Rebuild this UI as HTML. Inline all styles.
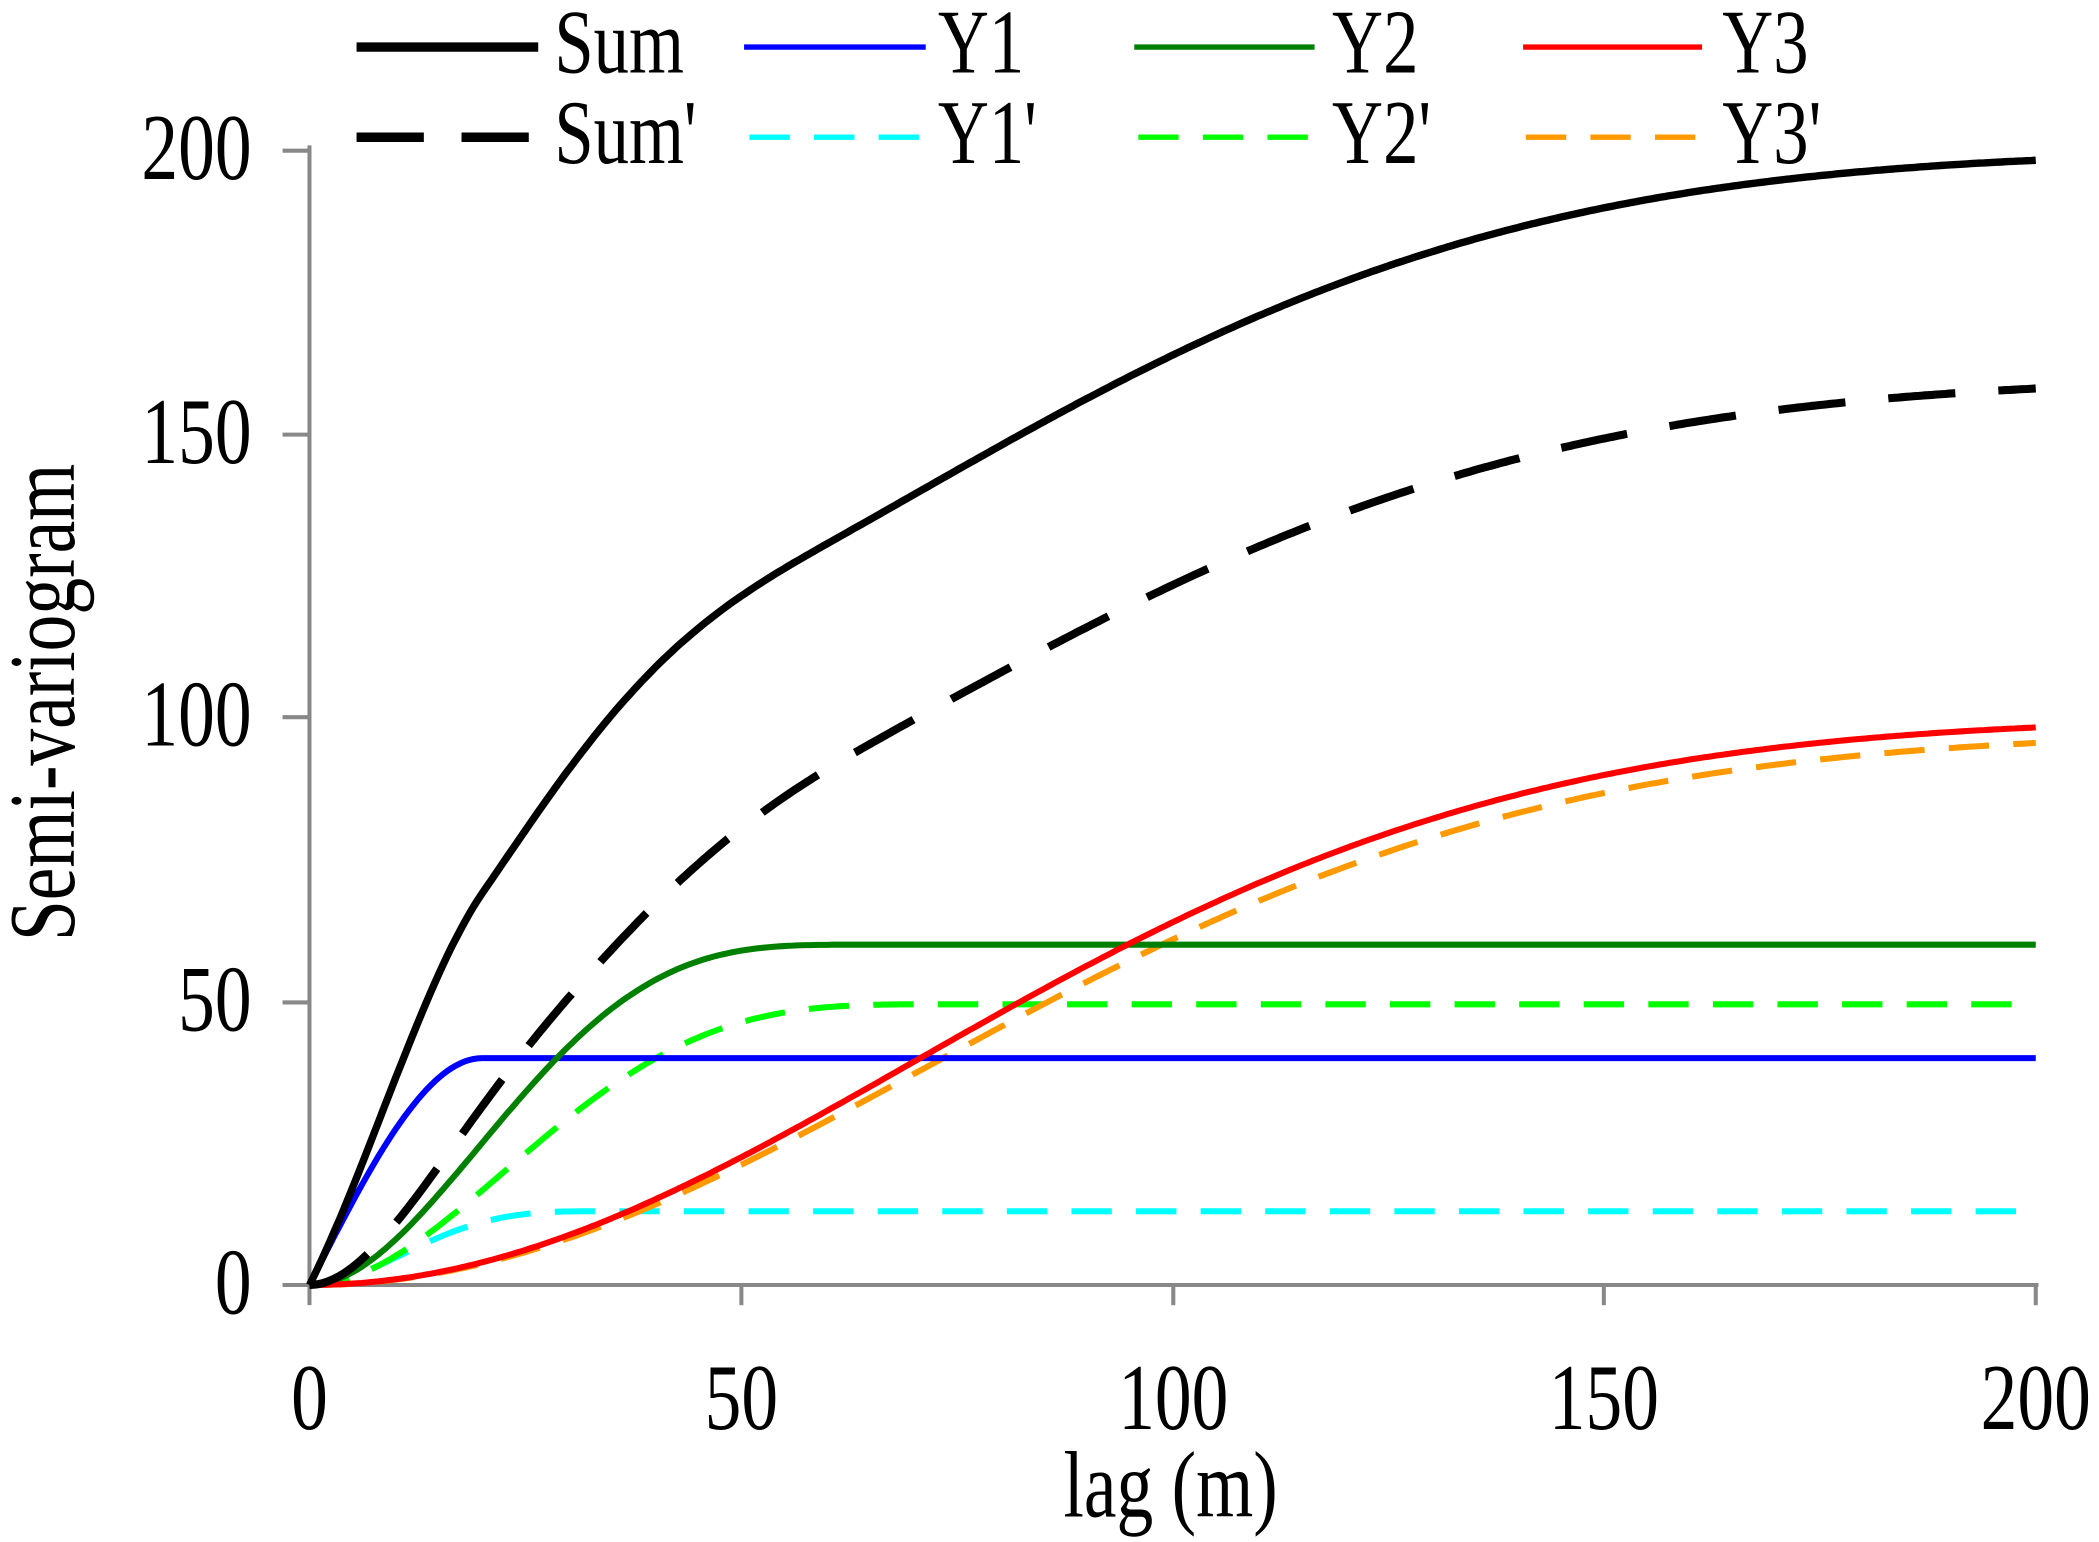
<!DOCTYPE html>
<html><head><meta charset="utf-8"><style>
html,body{margin:0;padding:0;background:#fff}
svg{display:block}
text{font-family:"Liberation Serif",serif;fill:#000}
</style></head><body>
<svg id="s" width="2099" height="1542" viewBox="0 0 1560 1146" preserveAspectRatio="none" xmlns="http://www.w3.org/2000/svg">
<g stroke="#888" stroke-width="3" fill="none">
<line x1="230" y1="108" x2="230" y2="970"/>
<line x1="210" y1="955" x2="1515" y2="955"/>
<line x1="210" y1="112" x2="230" y2="112"/>
<line x1="210" y1="323" x2="230" y2="323"/>
<line x1="210" y1="533" x2="230" y2="533"/>
<line x1="210" y1="745" x2="230" y2="745"/>
<line x1="551" y1="955" x2="551" y2="970"/>
<line x1="872" y1="955" x2="872" y2="970"/>
<line x1="1192" y1="955" x2="1192" y2="970"/>
<line x1="1513" y1="955" x2="1513" y2="970"/>
</g>
<g font-size="52" text-anchor="end">
<text transform="translate(187,133) scale(1.05,1.35)">200</text>
<text transform="translate(187,344) scale(1.05,1.35)">150</text>
<text transform="translate(187,554) scale(1.05,1.35)">100</text>
<text transform="translate(187,766) scale(1.05,1.35)">50</text>
<text transform="translate(187,976) scale(1.05,1.35)">0</text>
</g>
<g font-size="52" text-anchor="middle">
<text transform="translate(230,1062) scale(1.05,1.35)">0</text>
<text transform="translate(551,1062) scale(1.05,1.35)">50</text>
<text transform="translate(872,1062) scale(1.05,1.35)">100</text>
<text transform="translate(1192,1062) scale(1.05,1.35)">150</text>
<text transform="translate(1513,1062) scale(1.05,1.35)">200</text>
<text transform="translate(870,1127) scale(1.05,1.35)">lag (m)</text>
</g>
<text font-size="52" text-anchor="middle" transform="translate(55,522) rotate(-90) scale(1.05,1.35)">Semi-variogram</text>
<g id="curves" fill="none" stroke-linejoin="round"></g>
<g font-size="50">
<line x1="265" y1="35" x2="400" y2="35" stroke="#000" stroke-width="7"/><text transform="translate(412,54) scale(1.05,1.35)">Sum</text>
<line x1="553" y1="35" x2="688" y2="35" stroke="#00f" stroke-width="4"/><text transform="translate(697,54) scale(1.05,1.35)">Y1</text>
<line x1="843" y1="35" x2="977" y2="35" stroke="#008000" stroke-width="4"/><text transform="translate(990,54) scale(1.05,1.35)">Y2</text>
<line x1="1132" y1="35" x2="1265" y2="35" stroke="#f00" stroke-width="4"/><text transform="translate(1280,54) scale(1.05,1.35)">Y3</text>
<line x1="265" y1="102" x2="400" y2="102" stroke="#000" stroke-width="7" stroke-dasharray="50,28"/><text transform="translate(412,121) scale(1.05,1.35)">Sum'</text>
<line x1="557" y1="102" x2="688" y2="102" stroke="#0ff" stroke-width="4" stroke-dasharray="30,18"/><text transform="translate(697,121) scale(1.05,1.35)">Y1'</text>
<line x1="846" y1="102" x2="977" y2="102" stroke="#0f0" stroke-width="4" stroke-dasharray="30,18"/><text transform="translate(990,121) scale(1.05,1.35)">Y2'</text>
<line x1="1134" y1="102" x2="1265" y2="102" stroke="#f90" stroke-width="4" stroke-dasharray="30,18"/><text transform="translate(1280,121) scale(1.05,1.35)">Y3'</text>
</g>
</svg>
<script>
function sph(h,a,c){if(h>=a)return c;var r=h/a;return c*(1.5*r-0.5*r*r*r);}
function cub(h,a,c){if(h>=a)return c;var r=h/a;return c*(7*r*r-8.75*Math.pow(r,3)+3.5*Math.pow(r,5)-0.75*Math.pow(r,7));}
function gau(h,a,c){return c*(1-Math.exp(-(h/a)*(h/a)));}
var f={
Y1:function(h){return sph(h,20,40);},
Y2:function(h){return cub(h,65,60);},
Y3:function(h){return gau(h,99,100);},
Y1p:function(h){return cub(h,35,13);},
Y2p:function(h){return cub(h,75,49.5);},
Y3p:function(h){return gau(h,101,97.5);}
};
f.Sum=function(h){return f.Y1(h)+f.Y2(h)+f.Y3(h);};
f.Sump=function(h){return f.Y1p(h)+f.Y2p(h)+f.Y3p(h);};
var specs=[
["Y1p","#0ff",4.5,"30,18"],["Y2p","#0f0",4.5,"30,18"],["Y3p","#f90",4.5,"30,18"],
["Y1","#00f",4.5,""],["Y2","#008000",4.5,""],["Y3","#f00",4.5,""],
["Sump","#000",6,"50,32"],["Sum","#000",5.5,""]];
var g=document.getElementById("curves");
specs.forEach(function(s){
 var d="";for(var h=0;h<=200.001;h+=0.5){var x=230+h*6.415,y=955-f[s[0]](h)*4.215;d+=(h?"L":"M")+x.toFixed(1)+","+y.toFixed(1);}
 var p=document.createElementNS("http://www.w3.org/2000/svg","path");
 p.setAttribute("d",d);p.setAttribute("stroke",s[1]);p.setAttribute("stroke-width",s[2]);
 if(s[3])p.setAttribute("stroke-dasharray",s[3]);g.appendChild(p);
});
</script>
</body></html>
